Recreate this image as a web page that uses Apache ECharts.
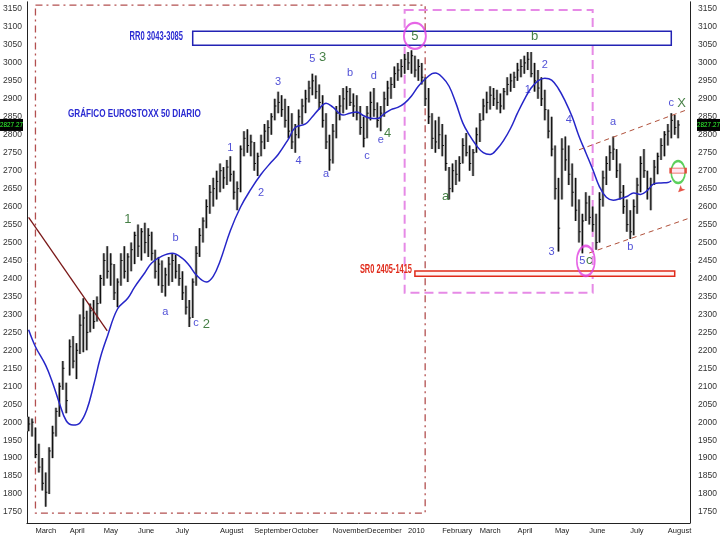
<!DOCTYPE html>
<html>
<head>
<meta charset="utf-8">
<title>Gráfico Eurostoxx 50 diario</title>
<script src="https://cdn.jsdelivr.net/npm/echarts@6/dist/echarts.min.js"></script>
<style>
html,body{margin:0;padding:0;background:#fff;}
#chart{width:720px;height:540px;}
</style>
</head>
<body>
<div id="chart"></div>
<script>
var FONT = "'Liberation Sans',Arial,sans-serif";

// month separators on the x axis (bar index where the month starts)
var monthNames = ['March','April','May','June','July','August','September','October','November','December',
  '2010','February','March','April','May','June','July','August'];
var monthStarts = [2,12,22,32,43,56,66,77,89,99,111,121,132,143,154,164,176,187];

// one bar = two sessions, feb 2009 - aug 2010
var lows = [1975,1960,1900,1860,1810,1765,1800,1900,1960,2015,
  2090,2025,2130,2150,2120,2190,2195,2200,2250,2260,
  2280,2330,2380,2400,2380,2340,2320,2380,2400,2390,
  2420,2440,2460,2450,2470,2460,2450,2400,2380,2360,
  2350,2380,2390,2400,2380,2340,2300,2265,2290,2380,
  2460,2500,2540,2580,2600,2620,2640,2650,2660,2670,
  2620,2590,2640,2740,2750,2740,2700,2685,2740,2760,
  2780,2800,2840,2860,2850,2820,2790,2760,2750,2790,
  2830,2860,2890,2910,2900,2870,2820,2760,2700,2720,
  2790,2840,2860,2870,2880,2850,2840,2800,2765,2790,
  2840,2850,2820,2810,2850,2880,2900,2930,2950,2960,
  2970,2980,2970,2960,2950,2940,2880,2830,2760,2750,
  2760,2740,2700,2620,2640,2660,2670,2720,2740,2700,
  2685,2750,2780,2840,2860,2870,2880,2870,2860,2870,
  2910,2920,2930,2950,2960,2970,2980,2960,2920,2900,
  2880,2840,2790,2740,2620,2475,2620,2700,2660,2600,
  2560,2500,2470,2560,2550,2530,2480,2500,2600,2660,
  2700,2730,2680,2620,2580,2530,2510,2520,2580,2640,
  2680,2620,2590,2660,2690,2730,2740,2770,2790,2800,
  2790];
var highs = [2015,2010,1985,1940,1900,1860,1930,1990,2040,2110,
  2170,2110,2230,2240,2220,2300,2345,2310,2330,2340,
  2350,2410,2470,2490,2470,2440,2400,2470,2490,2470,
  2500,2530,2550,2540,2555,2540,2530,2480,2460,2450,
  2430,2460,2470,2465,2440,2420,2380,2340,2400,2490,
  2540,2570,2620,2660,2680,2700,2720,2710,2730,2740,
  2700,2670,2770,2810,2815,2800,2780,2750,2800,2830,
  2840,2860,2900,2920,2910,2900,2880,2860,2830,2870,
  2900,2925,2950,2970,2965,2940,2910,2860,2800,2830,
  2880,2910,2930,2935,2930,2915,2910,2880,2850,2880,
  2920,2930,2890,2880,2920,2950,2960,2990,3000,3010,
  3025,3030,3035,3020,3010,3000,2960,2930,2860,2840,
  2850,2830,2800,2710,2720,2730,2740,2790,2805,2770,
  2760,2820,2860,2900,2920,2935,2930,2925,2915,2930,
  2960,2970,2975,3000,3010,3020,3030,3030,3000,2980,
  2960,2925,2870,2850,2770,2680,2790,2795,2770,2720,
  2680,2620,2580,2640,2630,2600,2580,2640,2700,2740,
  2770,2795,2760,2720,2660,2620,2590,2620,2680,2740,
  2760,2700,2680,2730,2750,2790,2810,2830,2860,2855,
  2840];
var closes = [1995,2000,1910,1875,1830,1805,1920,1970,2030,2100,
  2150,2060,2210,2170,2200,2270,2290,2250,2310,2280,
  2330,2400,2450,2420,2440,2360,2390,2450,2420,2460,
  2480,2520,2490,2530,2500,2520,2470,2420,2440,2380,
  2410,2440,2450,2420,2400,2360,2320,2290,2390,2470,
  2520,2560,2600,2640,2650,2670,2700,2680,2710,2690,
  2640,2650,2760,2790,2770,2780,2720,2740,2780,2810,
  2820,2850,2880,2890,2870,2840,2810,2780,2800,2850,
  2880,2900,2930,2950,2920,2890,2840,2780,2730,2810,
  2860,2880,2900,2920,2890,2880,2860,2820,2790,2860,
  2890,2870,2840,2860,2900,2930,2940,2970,2980,2990,
  3010,3000,3020,2980,2990,2960,2900,2850,2790,2780,
  2800,2770,2720,2650,2700,2690,2720,2770,2750,2720,
  2750,2800,2840,2880,2890,2910,2900,2890,2880,2920,
  2940,2950,2960,2980,2990,3000,3010,2970,2950,2930,
  2900,2870,2810,2760,2650,2540,2760,2730,2690,2640,
  2590,2530,2560,2610,2570,2550,2500,2620,2680,2720,
  2750,2760,2700,2640,2600,2550,2530,2600,2660,2720,
  2700,2650,2660,2710,2740,2770,2800,2810,2840,2820,
  2827.27];

// moving average
var maX = [0,2,5,7,9,11,13,15,17,19,21,23,26,29,31,34,36,39,42,45,47,49,52,54,56,59,62,65,68,71,73,76,78,81,83,85,87,89,92,94,96,98,100,102,104,106,108,110,112,114,116,118,119,121,123,125,127,129,131,133,135,137,139,141,143,145,147,149,151,153,155,157,159,161,163,165,167,169,171,173,175,177,179,181,183,185,187,188];
var maY = [2257,2210,2158,2110,2053,2004,1992,1998,2034,2102,2180,2238,2315,2345,2376,2416,2443,2462,2470,2456,2436,2410,2390,2406,2448,2533,2599,2648,2690,2724,2745,2788,2820,2830,2850,2872,2888,2877,2855,2860,2863,2853,2846,2845,2858,2870,2876,2888,2908,2935,2955,2970,2972,2960,2935,2888,2833,2798,2770,2750,2745,2760,2785,2818,2860,2898,2930,2950,2957,2952,2928,2893,2850,2796,2750,2704,2655,2626,2618,2622,2628,2638,2634,2645,2664,2666,2667,2672];

var lastPrice = 2827.27;

// wave counts [text, bar index, price]
var waveBlue = [['b',43,2513],['a',40,2307],['c',49,2276],['1',59,2763],['2',68,2638],['3',73,2947],
  ['4',79,2727],['5',83,3011],['a',87,2691],['b',94,2972],['d',101,2964],['c',99,2741],['e',103,2785],
  ['1',146,2925],['2',151,2994],['4',158,2841],['3',153,2474],['5',162,2449],['a',171,2836],
  ['b',176,2488],['c',188,2888]];
var waveGreen = [['1',29,2563],['2',52,2273],['3',86,3016],['4',105,2805],['5',113,3075],
  ['a',122,2627],['b',148,3075],['c',164,2449],['X',191,2888]];

var nCats = 194;
var cats = [];
for (var i = 0; i < nCats; i++) cats.push(String(i));

var bars = lows.map(function (l, i) { return [i, l, highs[i], closes[i]]; });
var ma = maX.map(function (x, i) { return [x, maY[i]]; });

function isMonth(i) { return monthStarts.indexOf(i) >= 0; }
function yLabel(v) { return v % 50 === 0 ? String(v) : ''; }

// narrow bold texts (no condensed font available, so squeeze them)
function squeezed(text, x, y, color, align, size, sx) {
  return {
    type: 'text', x: x, y: y, scaleX: sx, z: 10, silent: true,
    style: { text: text, fill: color, font: 'bold ' + size + 'px ' + FONT, textAlign: align, textVerticalAlign: 'middle' }
  };
}

var myChart = echarts.init(document.getElementById('chart'));
var option = {
  animation: false,
  backgroundColor: '#fff',
  graphic: [
    squeezed('GRÁFICO EUROSTOXX 50 DIARIO', 68, 114, '#2a2ad2', 'left', 11, 0.74),
    squeezed('RR0 3043-3085', 183, 37, '#2a2ad2', 'right', 12, 0.63),
    squeezed('SR0 2405-1415', 412, 270, '#e02a1a', 'right', 12, 0.62)
  ],
  grid: [
    { left: 24, right: 25, top: 1.8, bottom: 17.2 },
    { left: 24, right: 25, top: 1.8, bottom: 17.2 }
  ],
  xAxis: [
    {
      type: 'category', data: cats, gridIndex: 0, boundaryGap: true,
      axisLine: { lineStyle: { color: '#222' } },
      axisTick: { interval: function (i) { return isMonth(i); }, length: 15, lineStyle: { color: '#333' } },
      axisLabel: {
        interval: function (i) { return isMonth(i); },
        formatter: function (v, i) { return monthNames[monthStarts.indexOf(i)]; },
        align: 'left', margin: 4, fontSize: 7.5, color: '#222', fontFamily: FONT
      },
      splitLine: { show: false }
    },
    {
      type: 'category', data: cats, gridIndex: 1, boundaryGap: true, position: 'bottom',
      axisLine: { show: false },
      axisTick: { interval: function (i) { return i % 5 === 0 || i % 5 === 3; }, length: 4, lineStyle: { color: '#333' } },
      axisLabel: { show: false },
      splitLine: { show: false }
    }
  ],
  yAxis: [
    {
      type: 'value', gridIndex: 0, position: 'left', min: 1720, max: 3170, interval: 10,
      axisLine: { show: true, lineStyle: { color: '#222' } },
      axisTick: { length: 3, lineStyle: { color: '#333' } },
      axisLabel: { formatter: yLabel, fontSize: 8.5, color: '#333', margin: 5, fontFamily: FONT },
      splitLine: { show: false }
    },
    {
      type: 'value', gridIndex: 0, position: 'right', min: 1720, max: 3170, interval: 10,
      axisLine: { show: true, lineStyle: { color: '#222' } },
      axisTick: { length: 3, lineStyle: { color: '#333' } },
      axisLabel: { formatter: yLabel, fontSize: 8.5, color: '#333', margin: 8, fontFamily: FONT },
      splitLine: { show: false }
    },
    { type: 'value', gridIndex: 1, min: 1720, max: 3170, show: false }
  ],
  series: [
    {
      name: 'EUROSTOXX 50',
      type: 'custom',
      xAxisIndex: 0, yAxisIndex: 0,
      data: bars,
      encode: { x: 0, y: [1, 2, 3] },
      z: 3,
      renderItem: function (params, api) {
        var x = api.value(0);
        var lo = api.coord([x, api.value(1)]);
        var hi = api.coord([x, api.value(2)]);
        var cl = api.coord([x, api.value(3)]);
        var w = api.size([1, 0])[0];
        return {
          type: 'group',
          children: [
            { type: 'rect', shape: { x: lo[0] - w * 0.4, y: hi[1], width: w * 0.8, height: lo[1] - hi[1] },
              style: { fill: '#a8a8a8' } },
            { type: 'line', shape: { x1: lo[0], y1: lo[1], x2: hi[0], y2: hi[1] },
              style: { stroke: '#111', lineWidth: 1.2 } },
            { type: 'line', shape: { x1: cl[0], y1: cl[1], x2: cl[0] + w * 0.5, y2: cl[1] },
              style: { stroke: '#111', lineWidth: 1 } }
          ]
        };
      }
    },
    {
      name: 'Media',
      type: 'line',
      xAxisIndex: 0, yAxisIndex: 0,
      data: ma,
      smooth: 0.4,
      symbol: 'none',
      z: 4,
      lineStyle: { color: '#2626c8', width: 1.5 },
      markArea: {
        silent: true,
        label: { show: false },
        data: [
          [{ coord: [2, 3161], itemStyle: { color: 'rgba(0,0,0,0)', borderColor: '#b35050', borderWidth: 1.3, borderType: [7, 4, 2, 4] } },
           { coord: [116, 1747] }],
          [{ coord: [110, 3147], itemStyle: { color: 'rgba(0,0,0,0)', borderColor: '#e68ae6', borderWidth: 2, borderType: [9, 5] } },
           { coord: [165, 2360] }],
          [{ coord: [48, 3088], itemStyle: { color: '#fff', borderColor: '#2323b4', borderWidth: 1.5 } },
           { coord: [188, 3049] }],
          [{ coord: [113, 2421], itemStyle: { color: '#fff4f4', borderColor: '#e02a1a', borderWidth: 1.5 } },
           { coord: [189, 2406] }]
        ]
      },
      markLine: {
        silent: true,
        symbol: ['none', 'none'],
        label: { show: false },
        data: [
          [{ coord: [0, 2570], lineStyle: { color: '#7a1818', width: 1.3, type: 'solid' } }, { coord: [23, 2254] }],
          [{ coord: [161, 2758], lineStyle: { color: '#b0503a', width: 1, type: [5, 4] } }, { coord: [193, 2871] }],
          [{ coord: [164, 2471], lineStyle: { color: '#b0503a', width: 1, type: [5, 4] } }, { coord: [193, 2567] }]
        ]
      }
    },
    {
      name: 'marcas',
      type: 'scatter',
      xAxisIndex: 0, yAxisIndex: 0,
      silent: true, z: 5,
      itemStyle: { color: 'rgba(0,0,0,0)', borderWidth: 2 },
      data: [
        { value: [113, 3075], symbolSize: [22, 26], itemStyle: { borderColor: '#e040e0' } },
        { value: [163, 2449], symbolSize: [18, 30], itemStyle: { borderColor: '#e040e0' } },
        { value: [190, 2696], symbolSize: [14, 22], itemStyle: { borderColor: '#33c433' } },
        { value: [190, 2700], symbol: 'rect', symbolSize: [15, 5], itemStyle: { borderColor: '#e02a1a', borderWidth: 1.5, color: '#fde' } },
        { value: [190, 2640], symbol: 'arrow', symbolSize: [5, 7], symbolRotate: 135, itemStyle: { color: '#e02a1a', borderWidth: 0 } }
      ]
    },
    {
      name: 'ondas azul',
      type: 'scatter',
      xAxisIndex: 0, yAxisIndex: 0,
      silent: true, z: 6, symbolSize: 0,
      data: waveBlue.map(function (w) { return { name: w[0], value: [w[1], w[2]] }; }),
      label: { show: true, position: 'inside', formatter: '{b}', color: '#2424cc', fontSize: 11, fontFamily: FONT }
    },
    {
      name: 'ondas verde',
      type: 'scatter',
      xAxisIndex: 0, yAxisIndex: 0,
      silent: true, z: 6, symbolSize: 0,
      data: waveGreen.map(function (w) { return { name: w[0], value: [w[1], w[2]] }; }),
      label: { show: true, position: 'inside', formatter: '{b}', color: '#186018', fontSize: 13, fontFamily: FONT }
    }
  ]
};
myChart.setOption(option);

// last price tags on both price axes
var tagY = myChart.convertToPixel({ yAxisIndex: 0 }, lastPrice);
function priceTag(x) {
  return {
    type: 'group', x: x, y: tagY - 6, z: 20, silent: true,
    children: [
      { type: 'rect', shape: { x: 0, y: 0, width: 23, height: 12 }, style: { fill: '#000' } },
      { type: 'text', x: 11.5, y: 6, scaleX: 0.8,
        style: { text: lastPrice.toFixed(2), fill: '#3f3', font: '8px ' + FONT, textAlign: 'center', textVerticalAlign: 'middle' } }
    ]
  };
}
myChart.setOption({ graphic: option.graphic.concat([priceTag(0), priceTag(697)]) });
</script>
</body>
</html>
